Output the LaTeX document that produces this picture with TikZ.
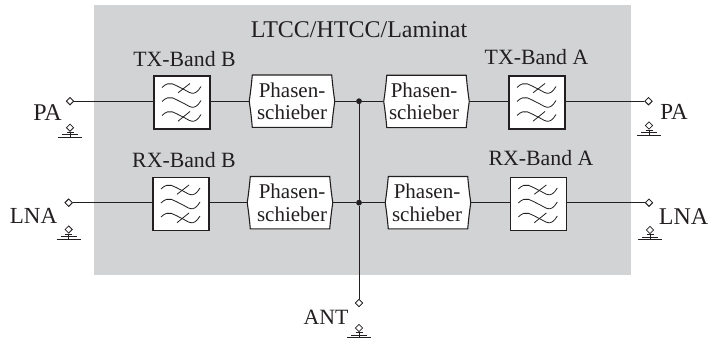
\documentclass[tikz,border=0pt]{standalone}
\usepackage{fontspec}
\setmainfont{Liberation Serif}
\usetikzlibrary{shapes.geometric}
\definecolor{panel}{RGB}{209,211,212}
\definecolor{ink}{RGB}{35,31,32}
\tikzset{
  x=1pt,y=-1pt,
  wire/.style={draw=ink,line width=1pt},
  thin wire/.style={draw=ink,line width=0.8pt},
  port/.style={diamond,draw=ink,fill=white,line width=0.8pt,minimum width=7.5pt,minimum height=7.5pt,inner sep=0pt},
  junction/.style={circle,fill=ink,minimum size=5.5pt,inner sep=0pt},
  filterbox/.style={rectangle,draw=ink,fill=white,line width=1.1pt,minimum width=56pt,minimum height=53pt,inner sep=0pt},
  phasebox/.style={rectangle,minimum width=85pt,minimum height=52pt,inner sep=0pt},
  phasetext/.style={align=center,inner sep=0pt,font=\fontsize{21}{22.5}\selectfont,text=ink},
  lab/.style={font=\fontsize{21.8}{22}\selectfont,text=ink,inner sep=0pt,anchor=base},
  midlab/.style={lab,font=\fontsize{23}{24}\selectfont},
  biglab/.style={lab,font=\fontsize{24}{24}\selectfont},
}
\newcommand{\onewave}[1]{%
  \draw[thin wire] (-20,#1-1) .. controls (-12,#1-9) and (-7,#1-3) .. (0,#1)
    .. controls (7,#1+3) and (12,#1+10) .. (19,#1-2);}
\newcommand{\filtersym}[1]{%
  \begin{scope}[shift={(#1.center)}]
    \onewave{-14}\onewave{0}\onewave{14}
    \draw[thin wire] (-4,-9.7) -- (8,-19);
    \draw[thin wire] (-4,18.7) -- (8,9);
  \end{scope}}
\newcommand{\phaseoutline}[1]{%
  \draw[draw=ink,fill=white,line width=1.1pt]
    ([xshift=3pt]#1.north west) -- ([xshift=-3pt]#1.north east)
    .. controls ([xshift=1pt,yshift=-17pt]#1.east) and ([xshift=1pt,yshift=17pt]#1.east) .. ([xshift=-3pt]#1.south east)
    -- ([xshift=3pt]#1.south west)
    .. controls ([xshift=-1pt,yshift=17pt]#1.west) and ([xshift=-1pt,yshift=-17pt]#1.west) .. cycle;}
\newcommand{\groundsym}[3]{%
  \node[port] (#1) at (#2,#3) {};
  \coordinate (#1g) at (#2,#3+9.5);
  \draw[thin wire] (#1) -- (#1g);
  \draw[thin wire] ([xshift=-12pt]#1g) -- ([xshift=12pt]#1g);
  \draw[thin wire] ([xshift=-8pt,yshift=2.5pt]#1g) -- ([xshift=8pt,yshift=2.5pt]#1g);
  \draw[thin wire] ([xshift=-3.5pt,yshift=5pt]#1g) -- ([xshift=3.5pt,yshift=5pt]#1g);}
\begin{document}
\begin{tikzpicture}
\useasboundingbox (0,0) rectangle (711,344);
\fill[panel] (94,5) rectangle (631,275);

\node[port] (pa1) at (70,101.2) {};
\node[port] (lna1) at (68.7,202.7) {};
\node[port] (pa2) at (648.5,101.2) {};
\node[port] (lna2) at (649,202.7) {};
\node[port] (ant) at (359,303) {};
\node[junction] (j1) at (359,101.2) {};
\node[junction] (j2) at (359,202.7) {};
\node[filterbox] (ftb) at (182,102.5) {};
\node[filterbox] (frb) at (181,204) {};
\node[filterbox] (fta) at (537,102.5) {};
\node[filterbox] (fra) at (538.3,204) {};
\node[phasebox] (ptb) at (292,101.2) {};
\node[phasebox] (pta) at (426.5,101.5) {};
\node[phasebox] (prb) at (290,202.7) {};
\node[phasebox] (pra) at (428,202.7) {};

% connectors
\draw[wire] (pa1) -- (ftb.west |- pa1);
\draw[wire] (ftb.east |- pa1) -- (ptb.west);
\draw[wire] (ptb.east) -- (j1) -- (pta.west |- j1);
\draw[wire] (pta.east |- j1) -- (fta.west |- j1);
\draw[wire] (fta.east |- j1) -- (pa2);
\draw[wire] (lna1) -- (frb.west |- lna1);
\draw[wire] (frb.east |- lna1) -- (prb.west);
\draw[wire] (prb.east) -- (j2) -- (pra.west);
\draw[wire] (pra.east) -- (fra.west |- j2);
\draw[wire] (fra.east |- j2) -- (lna2);
\draw[wire] (j1) -- (j2) -- (ant);

% shapes painted on top of the wires
\foreach \n/\x/\y in {ftb/182/102.5,frb/181/204,fta/537/102.5,fra/538.3/204}{
  \node[filterbox] (\n) at (\x,\y) {};
  \filtersym{\n}
}
\foreach \n/\off in {ptb/0,pta/-2.5,prb/2,pra/-1}{
  \phaseoutline{\n}
  \node[phasetext] (\n text) at ([xshift=\off pt]\n.center) {Phasen-\\schieber};
}
\node[port] at (pa1) {};
\node[port] at (lna1) {};
\node[port] at (pa2) {};
\node[port] at (lna2) {};
\node[port] at (ant) {};
\node[junction] at (j1) {};
\node[junction] at (j2) {};

\groundsym{g1}{70}{127.7}
\groundsym{g2}{68.7}{229.5}
\groundsym{g3}{649}{125.5}
\groundsym{g4}{650}{230}
\groundsym{g5}{359}{328}

% labels
\node[biglab] (title) at (359,38) {LTCC/HTCC/Laminat};
\node[lab] (ltb) at (184.5,66.5) {TX-Band B};
\node[lab] (lta) at (536.5,65) {TX-Band A};
\node[lab] (lrb) at (184,168) {RX-Band B};
\node[lab] (lra) at (541,166) {RX-Band A};
\node[biglab] (lpa1) at (47.5,120.5) {PA};
\node[midlab] (lpa2) at (674,120) {PA};
\node[midlab] (lln1) at (33.5,224) {LNA};
\node[biglab] (lln2) at (683.5,225) {LNA};
\node[lab] (lant) at (326,324) {ANT};
\end{tikzpicture}
\end{document}
